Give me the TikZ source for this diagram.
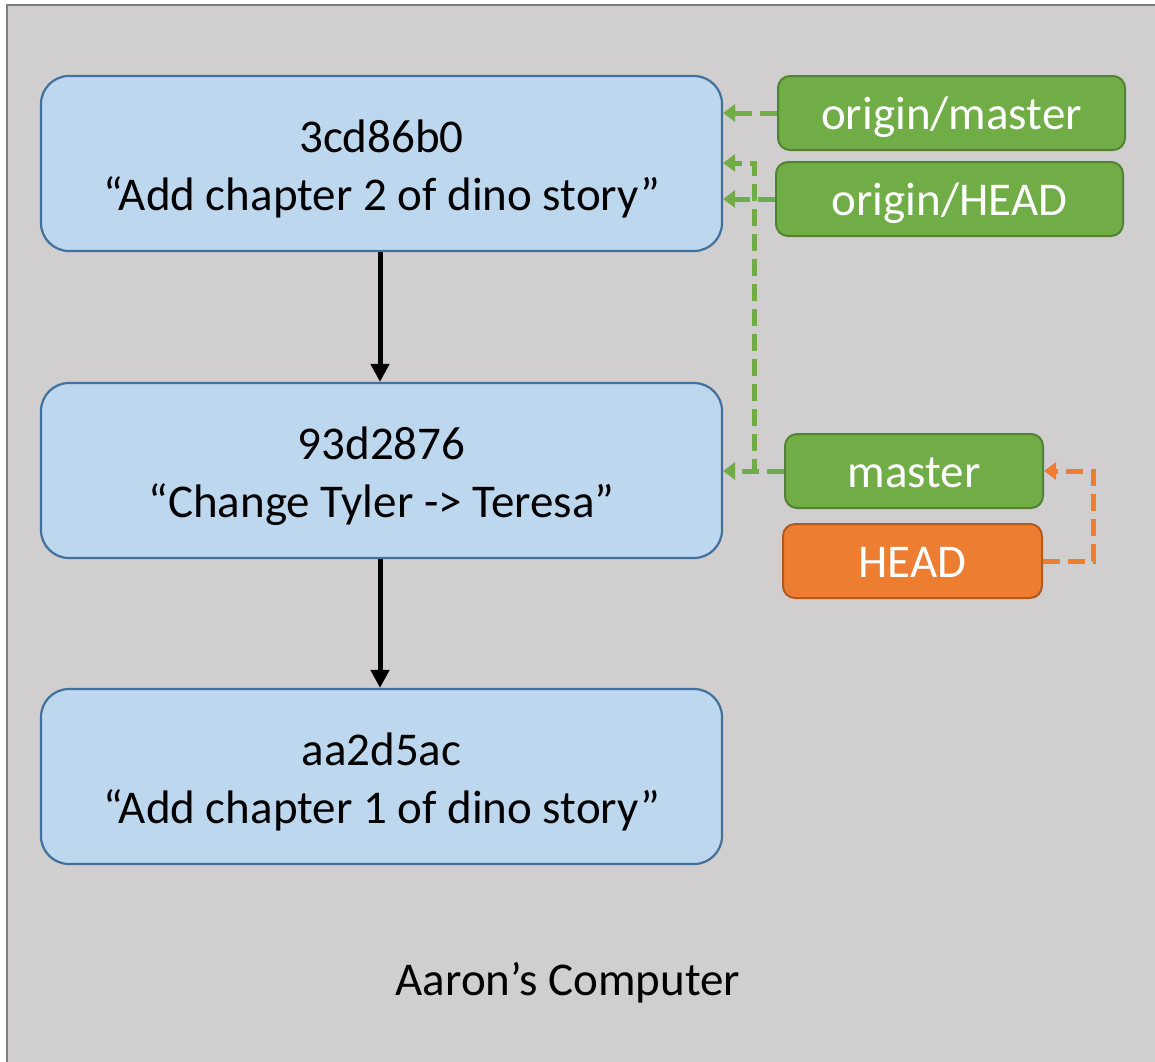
\documentclass[tikz,border=0pt]{standalone}
\usepackage{fontspec}
\setmainfont{Carlito}
\usetikzlibrary{arrows.meta,calc}
\definecolor{panelgray}{HTML}{D0CECE}
\definecolor{panelline}{HTML}{7F7F7F}
\definecolor{commitfill}{HTML}{BDD7EE}
\definecolor{commitline}{HTML}{41719C}
\definecolor{reffill}{HTML}{70AD47}
\definecolor{refline}{HTML}{548235}
\definecolor{headfill}{HTML}{ED7D31}
\definecolor{headline}{HTML}{AE5A21}
% strut that pushes the first text line of a commit box down a little
\newcommand{\toprule}{\rule{0pt}{44pt}}
\tikzset{
  commit/.style={draw=commitline, fill=commitfill, line width=2.2pt,
    rounded corners=28pt, minimum width=681pt, minimum height=175pt,
    inner sep=0pt, align=center, font=\fontsize{47}{58}\selectfont},
  refbox/.style={draw=refline, fill=reffill, line width=2pt,
    rounded corners=12pt, minimum height=74pt, inner sep=0pt,
    text height=40pt, text depth=8pt,
    text=white, font=\fontsize{47}{56}\selectfont},
  headbox/.style={refbox, draw=headline, fill=headfill},
  parentarrow/.style={line width=5pt, -{Triangle[length=18pt,width=18pt]}},
  refarrow/.style={draw=reffill, line width=5pt, dash pattern=on 17pt off 8pt,
    -{Triangle[length=12pt,width=17pt]}},
  headarrow/.style={refarrow, draw=headfill},
}
\begin{document}
\begin{tikzpicture}[x=1pt,y=-1pt]
  \useasboundingbox (0,0) rectangle (1155,1061);
  \fill[white] (0,0) rectangle (1155,1061);
  % the computer panel
  \draw[fill=panelgray, draw=panelline, line width=2.5pt] (7,5) rectangle (1170,1080);
  \node[font=\fontsize{47}{56}\selectfont] (pc) at (568,983) {Aaron’s Computer};

  % commits
  \node[commit] (c1) at (381.5,163.5) {\toprule 3cd86b0\\“Add chapter 2 of dino story”};
  \node[commit] (c2) at (381.5,470.5) {\toprule 93d2876\\“Change Tyler -> Teresa”};
  \node[commit] (c3) at (381.5,776.5) {\toprule aa2d5ac\\“Add chapter 1 of dino story”};

  % references
  \node[refbox, minimum width=347pt] (om) at (951.5,113) {origin/master};
  \node[refbox, minimum width=347pt] (oh) at (949.5,199) {origin/HEAD};
  \node[refbox, minimum width=258pt] (m) at (914,471) {master};
  \node[headbox, minimum width=259pt] (h) at (912.5,561) {HEAD};

  % parent links
  \draw[parentarrow] (c1.south -| 380,0) -- (c2.north -| 380,0);
  \draw[parentarrow] (c2.south -| 380,0) -- (c3.north -| 380,0);

  % reference pointers
  \coordinate (mj) at (754,163);
  \draw[refarrow] (om.west) -- (om.west -| c1.east);
  \draw[refarrow] (oh.west) -- (oh.west -| c1.east);
  \draw[refarrow] (m.west) -- (m.west -| c2.east);
  \draw[refarrow] (m.west) -| (mj) -- (mj -| c1.east);
  \draw[headarrow] (h.east) -- ++(50,0) |- (m.east);
\end{tikzpicture}
\end{document}
